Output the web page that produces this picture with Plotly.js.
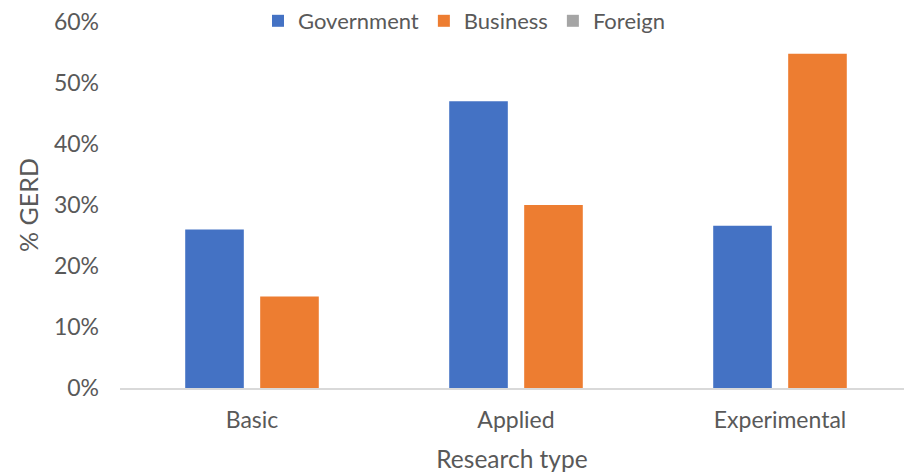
<!DOCTYPE html>
<html>
<head>
<meta charset="utf-8">
<script src="https://cdn.plot.ly/plotly-3.0.1.min.js"></script>
<style>html,body{margin:0;padding:0;background:#fff}#chart{width:904px;height:475px}</style>
</head>
<body>
<div id="chart"></div>
<script>
const categories = ["Basic", "Applied", "Experimental"];
const government = [0.26, 0.47, 0.266];
const business = [0.15, 0.30, 0.548];
const foreign = [null, null, null];
const yTickValues = [0, 0.1, 0.2, 0.3, 0.4, 0.5, 0.6];

const FONT = "Lato, 'Open Sans', sans-serif";
const TXT = "#595959";
const barW = 0.222;

const traces = [
  {type: "bar", name: "Government", x: categories, y: government,
   width: barW, offset: -0.253, marker: {color: "#4472c4"}, hoverinfo: "x+y"},
  {type: "bar", name: "Business", x: categories, y: business,
   width: barW, offset: 0.031, marker: {color: "#ed7d31"}, hoverinfo: "x+y"},
  {type: "bar", name: "Foreign", x: categories, y: foreign,
   width: barW, offset: 0.31, marker: {color: "#a5a5a5"}, hoverinfo: "x+y"}
];

const layout = {
  width: 904, height: 475,
  margin: {l: 120, r: 0, t: 21, b: 87},
  paper_bgcolor: "#fff", plot_bgcolor: "#fff",
  barmode: "overlay",
  font: {family: FONT, color: TXT, size: 22},
  showlegend: true,
  legend: {orientation: "h", x: 0.176, xanchor: "left", y: 1.003, yanchor: "middle",
           font: {family: FONT, size: 22, color: TXT}, bgcolor: "rgba(0,0,0,0)",
           traceorder: "normal"},
  xaxis: {
    type: "category", range: [-0.5, 2.4697],
    showgrid: false, zeroline: false,
    showline: true, linecolor: "#d9d9d9", linewidth: 2,
    ticks: "", ticklabelstandoff: 10, tickfont: {family: FONT, size: 23, color: TXT},
    title: {text: "Research type", font: {family: FONT, size: 24.5, color: TXT}, standoff: 19}
  },
  yaxis: {
    range: [0, 0.6], tickvals: yTickValues, tickformat: ".0%",
    showgrid: false, zeroline: false, showline: false,
    ticks: "", ticklen: 0, ticklabelstandoff: 20, tickfont: {family: FONT, size: 23, color: TXT},
    title: {text: "% GERD", font: {family: FONT, size: 25, color: TXT}, standoff: 8}
  }
};

Plotly.newPlot("chart", traces, layout, {displayModeBar: false, staticPlot: true});
</script>
</body>
</html>
